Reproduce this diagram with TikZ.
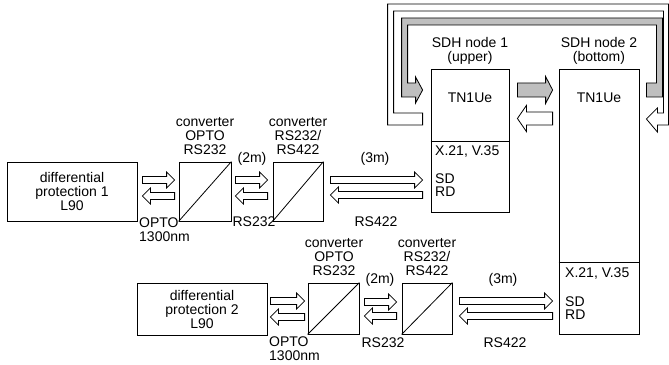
\documentclass[tikz,border=0pt]{standalone}
\usepackage{fontspec}
\setmainfont{Liberation Sans}
\usetikzlibrary{calc}
\tikzset{
  box/.style={draw, line width=0.8pt, inner sep=0pt, align=center, font=\fontsize{14}{14}\selectfont},
  lbl/.style={inner sep=0pt, align=center, font=\fontsize{14}{14}\selectfont},
  lbll/.style={inner sep=0pt, align=left, anchor=west, font=\fontsize{14}{14}\selectfont},
  blk/.style={draw, line width=0.8pt, fill=white, line join=miter},
  gblk/.style={draw, line width=0.8pt, fill=black!25, line join=miter}
}
% right-pointing block arrow from node #1 (east) to node #2 (west) at height #3, gaps #4 #5
\newcommand\blkR[5]{\draw[blk] let \p1=(#1.east), \p2=(#2.west) in
  ({\x1+#4pt},{#3pt+3.5pt}) -- ({\x2-#5pt-8pt},{#3pt+3.5pt}) -- ({\x2-#5pt-8pt},{#3pt+8pt}) --
  ({\x2-#5pt},{#3pt}) -- ({\x2-#5pt-8pt},{#3pt-8pt}) -- ({\x2-#5pt-8pt},{#3pt-3.5pt}) --
  ({\x1+#4pt},{#3pt-3.5pt}) -- cycle;}
% left-pointing block arrow
\newcommand\blkL[5]{\draw[blk] let \p1=(#1.east), \p2=(#2.west) in
  ({\x1+#4pt},{#3pt}) -- ({\x1+#4pt+8pt},{#3pt+8pt}) -- ({\x1+#4pt+8pt},{#3pt+3.5pt}) --
  ({\x2-#5pt},{#3pt+3.5pt}) -- ({\x2-#5pt},{#3pt-3.5pt}) -- ({\x1+#4pt+8pt},{#3pt-3.5pt}) --
  ({\x1+#4pt+8pt},{#3pt-8pt}) -- cycle;}
\begin{document}
\begin{tikzpicture}[x=1pt,y=1pt]
\useasboundingbox (0,0) rectangle (669,364);
% boxes
\node[box, minimum width=130pt, minimum height=59pt] (p1) at (72,172.5) {differential\\protection 1\\L90};
\node[box, minimum width=52pt, minimum height=59pt] (c1) at (205,172.5) {};
\node[box, minimum width=50pt, minimum height=59pt] (c2) at (298,172.5) {};
\node[box, minimum width=78pt, minimum height=143pt] (n1) at (470,223.5) {};
\node[box, minimum width=80pt, minimum height=265pt] (n2) at (599,162.5) {};
\node[box, minimum width=130pt, minimum height=52pt] (p2) at (202,55) {differential\\protection 2\\L90};
\node[box, minimum width=51pt, minimum height=51pt] (c3) at (333.5,55.5) {};
\node[box, minimum width=50pt, minimum height=51pt] (c4) at (427,55.5) {};

% ring loops between the SDH nodes
\draw[blk] let \p1=(n1.west), \p2=(n2.east) in
  ({\x1-8pt},239pt) -- ({\x1-43pt},239pt) -- ({\x1-43pt},360pt) -- ({\x2+29pt},360pt) --
  ({\x2+29pt},239pt) -- ({\x2+18pt},239pt) -- ({\x2+18pt},232pt) -- ({\x2+7pt},245pt) --
  ({\x2+18pt},256pt) -- ({\x2+18pt},251pt) -- ({\x2+24pt},251pt) -- ({\x2+24pt},353pt) --
  ({\x1-37pt},353pt) -- ({\x1-37pt},251pt) -- ({\x1-8pt},251pt) -- cycle;
\draw[gblk] let \p1=(n1.west), \p2=(n2.east) in
  ({\x2+7pt},267pt) -- ({\x2+23pt},267pt) -- ({\x2+23pt},346pt) -- ({\x1-29pt},346pt) --
  ({\x1-29pt},267pt) -- ({\x1-15pt},267pt) -- ({\x1-15pt},261pt) -- ({\x1-8pt},274pt) --
  ({\x1-15pt},287pt) -- ({\x1-15pt},281pt) -- ({\x1-23pt},281pt) -- ({\x1-23pt},339pt) --
  ({\x2+17pt},339pt) -- ({\x2+17pt},281pt) -- ({\x2+7pt},281pt) -- cycle;

\foreach \c in {c1,c2,c3,c4} \draw[line width=0.8pt] (\c.south west) -- (\c.north east);
\draw[line width=0.8pt] (n1.west |- 0,223) -- (n1.east |- 0,223);
\draw[line width=0.8pt] (n2.west |- 0,102) -- (n2.east |- 0,102);

% block arrows
\blkR{p1}{c1}{184}{5}{4}  \blkL{p1}{c1}{168}{5}{4}
\blkR{c1}{c2}{184}{4}{5}  \blkL{c1}{c2}{168}{4}{5}
\blkR{c2}{n1}{184}{7}{8}  \blkL{c2}{n1}{169}{7}{8}
\blkR{p2}{c3}{63}{3}{3}   \blkL{p2}{c3}{47}{3}{3}
\blkR{c3}{c4}{62}{5}{5}   \blkL{c3}{c4}{48}{5}{5}
\blkR{c4}{n2}{63}{7}{6}   \blkL{c4}{n2}{48}{7}{6}

% SDH node-to-node arrows
\draw[gblk] let \p1=(n1.east), \p2=(n2.west) in
  ({\x1+8pt},281pt) -- ({\x2-13pt},281pt) -- ({\x2-13pt},287.5pt) -- ({\x2-6pt},274pt) --
  ({\x2-13pt},260.5pt) -- ({\x2-13pt},267pt) -- ({\x1+8pt},267pt) -- cycle;
\draw[blk] let \p1=(n1.east), \p2=(n2.west) in
  ({\x1+8pt},245.5pt) -- ({\x1+17pt},258.5pt) -- ({\x1+17pt},252pt) -- ({\x2-6pt},252pt) --
  ({\x2-6pt},239pt) -- ({\x1+17pt},239pt) -- ({\x1+17pt},232.5pt) -- cycle;

% labels
\node[lbl] (t1) at (470,313) {SDH node 1\\(upper)};
\node[lbl] (t2) at (599,313) {SDH node 2\\(bottom)};
\node[lbl] (u1) at (470,266) {TN1Ue};
\node[lbl] (u2) at (599,266) {TN1Ue};
\node[lbll] (x1) at (435,212) {X.21, V.35};
\node[lbll] (s1) at (435,185) {SD};
\node[lbll] (r1) at (435,172) {RD};
\node[lbll] (x2) at (565,90) {X.21, V.35};
\node[lbll] (s2) at (565,62) {SD};
\node[lbll] (r2) at (565,49) {RD};

\node[lbl] (k1) at (205,228) {converter\\OPTO\\RS232};
\node[lbl] (k2) at (298,228) {converter\\RS232/\\RS422};
\node[lbl] (k3) at (334,107) {converter\\OPTO\\RS232};
\node[lbl] (k4) at (427,107) {converter\\RS232/\\RS422};

\node[lbl] (m1) at (252,205) {(2m)};
\node[lbl] (m2) at (375,205) {(3m)};
\node[lbl] (m3) at (380,84) {(2m)};
\node[lbl] (m4) at (503,84) {(3m)};

\node[lbll] (o1) at (139,134.5) {OPTO\\1300nm};
\node[lbll] (o2) at (269,15) {OPTO\\1300nm};
\node[lbl] (a1) at (254,142) {RS232};
\node[lbl] (a2) at (376,142) {RS422};
\node[lbl] (a3) at (383,21) {RS232};
\node[lbl] (a4) at (505,21) {RS422};
\end{tikzpicture}
\end{document}
